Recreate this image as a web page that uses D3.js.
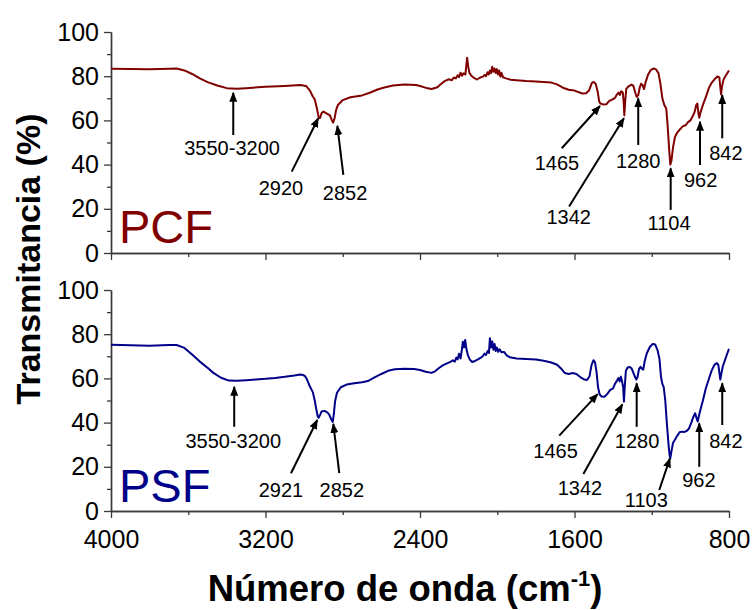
<!DOCTYPE html>
<html>
<head>
<meta charset="utf-8">
<script src="https://cdn.jsdelivr.net/npm/d3@7"></script>
<style>
  html, body { margin: 0; padding: 0; background: #fff; }
  svg { display: block; font-family: "Liberation Sans", Arial, Helvetica, sans-serif; }
</style>
</head>
<body>
<svg id="chart" width="753" height="610"></svg>
<script>
// FTIR spectra (wavenumber in cm-1, transmittance in %)
const pcfWavenumber = [4000,3900,3800,3700,3660,3620,3580,3540,3500,3450,3400,3350,3300,3200,3100,3020,2990,2970,2955,2945,2935,2925,2918,2910,2900,2880,2866,2856,2850,2842,2835,2825,2800,2760,2700,2660,2620,2590,2540,2480,2420,2390,2360,2340,2310,2290,2270,2250,2235,2225,2215,2205,2198,2190,2182,2175,2165,2160,2156,2150,2144,2135,2120,2105,2090,2075,2065,2058,2050,2044,2038,2032,2026,2020,2014,2008,2002,1996,1990,1984,1978,1970,1955,1930,1900,1850,1800,1760,1720,1690,1660,1630,1600,1560,1540,1525,1510,1500,1490,1480,1472,1465,1450,1435,1420,1405,1390,1380,1372,1365,1358,1350,1346,1342,1338,1332,1322,1305,1295,1285,1278,1270,1262,1255,1248,1240,1232,1220,1205,1190,1178,1165,1155,1145,1135,1125,1118,1110,1104,1098,1090,1080,1068,1055,1040,1025,1012,1000,990,978,970,964,958,954,948,935,920,905,890,875,860,850,845,841,836,828,815,800];
const pcfTransmitancia = [83.4,83.3,83.1,83.4,83.5,82.6,81,79,77.3,75.8,74.6,74.3,74.6,75.2,75.6,76,75.6,73.5,70.8,69.5,66,61.5,61,63.2,64,63,62.3,60,59,61,64.5,67,69.2,70.5,71.3,72.5,74,74.8,75.8,76.2,76,75.3,74.5,74.2,75,76.6,77.9,78.6,78.2,79.4,79,80.4,79.6,81.6,80.2,81.3,80.8,85,88.3,84.2,81.5,80.3,79.2,78.5,79.3,79.8,80.6,80,81.8,80.8,82.6,81.4,84.3,82,83.5,81.4,83.2,80.8,82.6,79.8,81.5,79.5,79,78.4,78.2,77.8,77.6,77.4,77.1,76.3,74.8,73.9,73.5,72.2,72.3,73.5,77,77.4,76.5,73,68.5,67.6,67.2,67.3,68.8,69.4,70.2,71.8,72.6,71.5,73.2,72.6,69,62.3,68,74.3,75.3,76.2,75.6,72.5,70.6,71.4,75,76.6,76,74.2,77.2,80.5,82.8,83.5,83.1,81.3,76.5,70,67,65.4,58,47,40,41.8,47.7,52.5,54.5,55.8,57.3,57.8,59.2,60,61.5,63.8,66.8,67.6,63,61.2,63.5,67,70.5,74.5,77,78.6,79.9,79.5,75,71.8,75.5,78.5,80.5,82.6];

const psfWavenumber = [4000,3900,3800,3700,3660,3620,3580,3540,3500,3470,3430,3390,3350,3300,3250,3200,3150,3100,3050,3020,3005,2995,2985,2970,2955,2945,2938,2930,2925,2918,2910,2895,2880,2870,2860,2852,2846,2840,2830,2810,2780,2740,2700,2670,2640,2600,2560,2530,2480,2430,2400,2370,2340,2320,2300,2280,2260,2240,2230,2220,2212,2205,2198,2190,2184,2178,2172,2166,2160,2152,2142,2130,2115,2100,2085,2075,2066,2058,2050,2043,2038,2032,2026,2020,2014,2008,2002,1995,1988,1978,1965,1950,1935,1900,1850,1800,1760,1720,1690,1670,1650,1630,1610,1590,1570,1550,1535,1522,1512,1502,1494,1486,1478,1470,1460,1445,1430,1415,1400,1390,1380,1372,1366,1360,1354,1348,1344,1340,1334,1326,1315,1305,1295,1286,1280,1274,1266,1258,1250,1244,1236,1225,1210,1195,1182,1170,1160,1152,1145,1138,1130,1122,1114,1108,1104,1098,1090,1080,1068,1056,1044,1030,1018,1008,996,985,975,968,962,956,946,935,920,905,890,875,862,855,849,845,840,832,820,808,800];
const psfTransmitancia = [75.2,75,74.8,75.1,75.1,73.8,70.8,67.6,64.8,62.5,60.3,59,58.9,59.2,59.5,59.8,60.2,60.7,61.3,61.8,61.5,61,59.5,56.3,53.8,50,46.5,43,42.2,43.4,45,45.3,44.6,43.6,41.5,40.3,44,49.5,53.5,56,57.2,57.8,58.3,58.8,60.2,62,63.6,64.1,64.4,64.3,63.8,63,62.5,63.3,64.8,66,66.8,67.6,68.2,67.6,69.4,68.6,71.2,69,72.5,76.6,74,77.4,73.5,70.5,68.5,67.4,67.9,68.6,69.4,70,71.2,70.6,72.4,71.5,78.2,74,76.7,73,75.6,72.4,74,72,73.2,71.8,72,70.3,69.6,69,68.8,68.6,68,67.2,66.2,64.5,62.4,62,62.4,62,60.6,59.5,59.3,61,66,68.2,67.4,63,56,52.8,51.8,51.7,53,54.8,55.5,57.6,59,60.2,58.6,60.8,58.8,56,49.5,56,63.4,64.8,65.2,64.6,62.5,60.5,59.5,60.5,64.2,65.2,64.3,64,68,71.5,74.2,75.6,75.3,72.8,68.8,60.5,57.5,56,50,40,31,25.5,23.8,27,30.8,32.2,34,35.6,35.9,35.8,36.3,37.2,39.8,42.5,44.2,42,40.5,43,46.5,50,55.5,59.5,63.5,66.2,66.9,66,62,59.5,62,65.5,68.5,71.5,73.4];

// Axis ticks
const xMajorTicks = [4000, 3200, 2400, 1600, 800];
const xMinorTicks = [3600, 2800, 2000, 1200];
const yMajorTicks = [0, 20, 40, 60, 80, 100];
const yMinorTicks = [10, 30, 50, 70, 90];

// Band annotations: [wavenumber, %T] for arrow tip, arrow tail and label anchor
const pcfBands = [
  { text: "3550-3200", tip: [3367, 72.5], tail: [3367, 53.4], label: [3373, 44.3] },
  { text: "2920", tip: [2927, 61.0], tail: [3064, 36.8], label: [3120, 26.2] },
  { text: "2852", tip: [2828, 57.5], tail: [2797, 35.3], label: [2788, 24.0] },
  { text: "1465", tip: [1468, 66.5], tail: [1666, 47.4], label: [1691, 37.6] },
  { text: "1342", tip: [1344, 61.0], tail: [1628, 21.0], label: [1630, 13.1] },
  { text: "1280", tip: [1270, 70.0], tail: [1270, 48.9], label: [1270, 38.5] },
  { text: "1104", tip: [1102, 38.3], tail: [1102, 19.5], label: [1110, 10.4] },
  { text: "962",  tip: [950, 59.4],  tail: [950, 39.8],  label: [947, 29.9] },
  { text: "842",  tip: [835, 71.5],  tail: [835, 51.9],  label: [816, 42.0] }
];
const psfBands = [
  { text: "3550-3200", tip: [3362, 56.2], tail: [3362, 38.1], label: [3367, 28.5] },
  { text: "2921", tip: [2932, 41.2], tail: [3068, 17.1], label: [3120, 6.3] },
  { text: "2852", tip: [2849, 39.4], tail: [2818, 17.1], label: [2805, 6.3] },
  { text: "1465", tip: [1480, 52.9], tail: [1679, 34.1], label: [1698, 24.0] },
  { text: "1342", tip: [1352, 48.3], tail: [1554, 16.7], label: [1572, 7.2] },
  { text: "1280", tip: [1278, 57.8], tail: [1278, 38.1], label: [1276, 28.5] },
  { text: "1103", tip: [1106, 23.8], tail: [1161, 9.5],  label: [1228, 1.8] },
  { text: "962",  tip: [954, 39.7],  tail: [954, 20.0],  label: [956, 10.9] },
  { text: "842",  tip: [835, 57.8],  tail: [835, 38.9],  label: [816, 28.5] }
];

const svg = d3.select("#chart");
const axisColor = "#3a3a3a";

const x = d3.scaleLinear().domain([4000, 800]).range([111, 729]);

const panels = [
  { name: "PCF", color: "#800000", wn: pcfWavenumber, t: pcfTransmitancia, bands: pcfBands,
    y: d3.scaleLinear().domain([0, 100]).range([253, 32]), showX: false, nameY: 243 },
  { name: "PSF", color: "#000088", wn: psfWavenumber, t: psfTransmitancia, bands: psfBands,
    y: d3.scaleLinear().domain([0, 100]).range([511, 290]), showX: true, nameY: 502 }
];

// arrowhead
svg.append("defs").append("marker")
  .attr("id", "arrowhead")
  .attr("viewBox", "0 0 10 8")
  .attr("refX", 9).attr("refY", 4)
  .attr("markerWidth", 10).attr("markerHeight", 8)
  .attr("markerUnits", "userSpaceOnUse")
  .attr("orient", "auto")
  .append("path")
  .attr("d", "M0,0 L10,4 L0,8 Z")
  .attr("fill", "#000");

function styleAxis(g) {
  g.select(".domain").attr("stroke", axisColor).attr("stroke-width", 1.4);
  g.selectAll(".tick line").attr("stroke", axisColor).attr("stroke-width", 1.3);
  g.selectAll(".tick text").attr("fill", "#000");
}

panels.forEach(p => {
  const y = p.y;
  const y0 = y(0);

  // y axis (major + minor)
  const yAxis = svg.append("g")
    .attr("transform", `translate(${x(4000)},0)`)
    .call(d3.axisLeft(y).tickValues(yMajorTicks).tickSize(7).tickPadding(5).tickSizeOuter(0))
    .attr("font-size", 25).attr("font-family", null);
  styleAxis(yAxis);
  const yMinor = svg.append("g")
    .attr("transform", `translate(${x(4000)},0)`)
    .call(d3.axisLeft(y).tickValues(yMinorTicks).tickSize(4).tickFormat("").tickSizeOuter(0));
  styleAxis(yMinor);

  // x axis (major + minor)
  const xAxis = svg.append("g")
    .attr("transform", `translate(0,${y0})`)
    .call(d3.axisBottom(x).tickValues(xMajorTicks).tickSize(7).tickPadding(12).tickSizeOuter(0)
      .tickFormat(p.showX ? d3.format("d") : ""))
    .attr("font-size", 25).attr("font-family", null);
  styleAxis(xAxis);
  const xMinor = svg.append("g")
    .attr("transform", `translate(0,${y0})`)
    .call(d3.axisBottom(x).tickValues(xMinorTicks).tickSize(4).tickFormat("").tickSizeOuter(0));
  styleAxis(xMinor);

  // spectrum
  const pts = p.wn.map((w, i) => [w, p.t[i]]);
  svg.append("path")
    .datum(pts)
    .attr("fill", "none")
    .attr("stroke", p.color)
    .attr("stroke-width", 2)
    .attr("stroke-linejoin", "round")
    .attr("d", d3.line().x(d => x(d[0])).y(d => y(d[1])));

  // sample name
  svg.append("text")
    .attr("x", 119).attr("y", p.nameY)
    .attr("font-size", 47)
    .attr("fill", p.color)
    .text(p.name);

  // band arrows and labels
  const g = svg.append("g");
  g.selectAll("line").data(p.bands).join("line")
    .attr("x1", d => x(d.tail[0])).attr("y1", d => y(d.tail[1]))
    .attr("x2", d => x(d.tip[0])).attr("y2", d => y(d.tip[1]))
    .attr("stroke", "#000").attr("stroke-width", 2)
    .attr("marker-end", "url(#arrowhead)");
  g.selectAll("text").data(p.bands).join("text")
    .attr("x", d => x(d.label[0])).attr("y", d => y(d.label[1]))
    .attr("text-anchor", "middle")
    .attr("font-size", 20)
    .attr("fill", "#000")
    .text(d => d.text);
});

// axis titles
svg.append("text")
  .attr("transform", "translate(40,259) rotate(-90)")
  .attr("text-anchor", "middle")
  .attr("font-size", 34).attr("font-weight", "bold")
  .text("Transmitancia (%)");

const xt = svg.append("text")
  .attr("x", 405).attr("y", 601)
  .attr("text-anchor", "middle")
  .attr("font-size", 36.5).attr("font-weight", "bold");
xt.append("tspan").text("Número de onda (cm");
xt.append("tspan").attr("font-size", 22).attr("dy", -15).text("-1");
xt.append("tspan").attr("dy", 15).text(")");
</script>
</body>
</html>
